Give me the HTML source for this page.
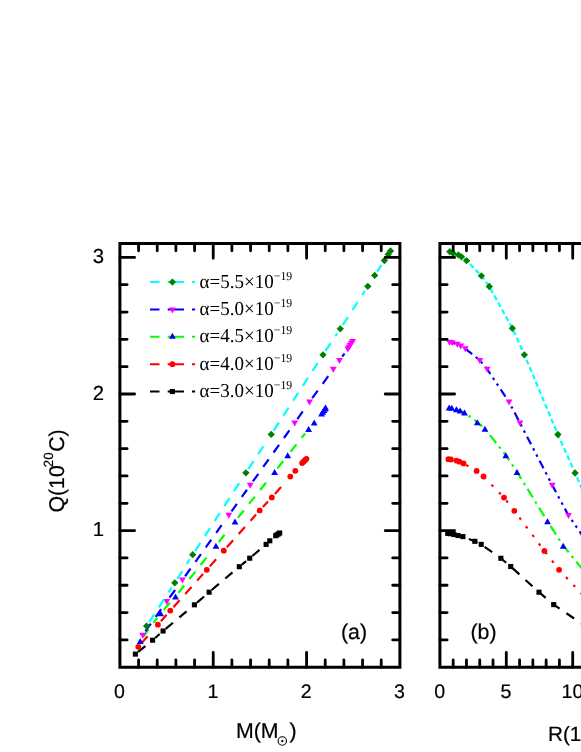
<!DOCTYPE html>
<html><head><meta charset="utf-8"><title>Q-M and Q-R</title>
<style>
html,body{margin:0;padding:0;background:#fff;}
body{width:581px;height:752px;overflow:hidden;font-family:"Liberation Sans",sans-serif;}
svg{display:block;will-change:transform;text-rendering:geometricPrecision;}
</style></head><body>
<svg width="581" height="752" viewBox="0 0 581 752">
<rect width="581" height="752" fill="#fff"/>
<!-- panel (a) data -->
<g fill="none" stroke-width="2.2">
<path d="M138.04 651.96L145.36 646.05M155.16 637.96L159.64 634.03M165.71 628.82L172.92 622.78M179.36 617.39L186.56 611.36M196.98 602.59L204.12 596.47M211.7 590.01L218.88 583.94M225.3 578.52L232.48 572.46M241.93 564.55L246.14 561.11M252.3 556.01L259.49 549.96" stroke="#000000"/>
</g>
<rect x="132.85" y="651.55" width="5.1" height="5.1" fill="#000000"/>
<rect x="150.05" y="637.65" width="5.1" height="5.1" fill="#000000"/>
<rect x="160.55" y="628.45" width="5.1" height="5.1" fill="#000000"/>
<rect x="191.85" y="602.25" width="5.1" height="5.1" fill="#000000"/>
<rect x="206.55" y="589.65" width="5.1" height="5.1" fill="#000000"/>
<rect x="236.75" y="564.15" width="5.1" height="5.1" fill="#000000"/>
<rect x="247.15" y="555.65" width="5.1" height="5.1" fill="#000000"/>
<rect x="263.55" y="541.85" width="5.1" height="5.1" fill="#000000"/>
<rect x="267.25" y="538.25" width="5.1" height="5.1" fill="#000000"/>
<rect x="273.15" y="533.15" width="5.1" height="5.1" fill="#000000"/>
<rect x="274.45" y="532.25" width="5.1" height="5.1" fill="#000000"/>
<rect x="275.85" y="531.35" width="5.1" height="5.1" fill="#000000"/>
<rect x="277.15" y="530.45" width="5.1" height="5.1" fill="#000000"/>
<g fill="none" stroke-width="2.2">
<path d="M141.35 643.36L147.59 636.33M160.94 621.25L166.6 614.81M173.37 607.17L179.63 600.17M185.24 593.91L191.5 586.9M197.1 580.64L203.07 573.97M209.86 566.36L216.11 559.34M226.86 547.27L233.11 540.25M238.7 533.97L244.95 526.96M250.54 520.68L255.98 514.58M262.83 507.03L267.98 501.5M274.86 493.96L281.1 486.94" stroke="#ff0000"/>
</g>
<circle cx="138.3" cy="646.8" r="2.9" fill="#ff0000"/>
<circle cx="157.9" cy="624.7" r="2.9" fill="#ff0000"/>
<circle cx="170.3" cy="610.6" r="2.9" fill="#ff0000"/>
<circle cx="206.8" cy="569.8" r="2.9" fill="#ff0000"/>
<circle cx="223.8" cy="550.7" r="2.9" fill="#ff0000"/>
<circle cx="259.7" cy="510.4" r="2.9" fill="#ff0000"/>
<circle cx="271.8" cy="497.4" r="2.9" fill="#ff0000"/>
<circle cx="290.3" cy="476.6" r="2.9" fill="#ff0000"/>
<circle cx="295.3" cy="470.8" r="2.9" fill="#ff0000"/>
<circle cx="302.1" cy="463.1" r="2.9" fill="#ff0000"/>
<circle cx="303.5" cy="461.7" r="2.9" fill="#ff0000"/>
<circle cx="305" cy="460.2" r="2.9" fill="#ff0000"/>
<circle cx="306.4" cy="458.8" r="2.9" fill="#ff0000"/>
<g fill="none" stroke-width="2.2">
<path d="M142.93 637.2L148.52 629.64M153.51 622.89L157.27 617.8M163.65 609.86L169.89 602.83M178.37 592.9L184.22 585.55M189.46 578.98L195.32 571.63M200.55 565.06L206.41 557.71M218.74 542.18L224.53 534.78M237.88 517.81L243.76 510.48M249.01 503.92L254.89 496.59M260.14 490.03L266.02 482.7M277.44 468.38L283.24 460.98M290.57 451.7L296.43 444.36M301.67 437.79L305.11 433.48" stroke="#00ff00"/>
</g>
<path d="M140.2 637.9L143.6 643.9L136.8 643.9Z" fill="#0000ff"/>
<path d="M160.6 610.3L164 616.3L157.2 616.3Z" fill="#0000ff"/>
<path d="M175.5 593.5L178.9 599.5L172.1 599.5Z" fill="#0000ff"/>
<path d="M215.9 542.8L219.3 548.8L212.5 548.8Z" fill="#0000ff"/>
<path d="M235 518.4L238.4 524.4L231.6 524.4Z" fill="#0000ff"/>
<path d="M274.6 469L278 475L271.2 475Z" fill="#0000ff"/>
<path d="M287.7 452.3L291.1 458.3L284.3 458.3Z" fill="#0000ff"/>
<path d="M308.6 426.1L312 432.1L305.2 432.1Z" fill="#0000ff"/>
<path d="M314.2 419.4L317.6 425.4L310.8 425.4Z" fill="#0000ff"/>
<path d="M321.6 410.5L325 416.5L318.2 416.5Z" fill="#0000ff"/>
<path d="M322.8 408.8L326.2 414.8L319.4 414.8Z" fill="#0000ff"/>
<path d="M324 407L327.4 413L320.6 413Z" fill="#0000ff"/>
<path d="M325 405.5L328.4 411.5L321.6 411.5Z" fill="#0000ff"/>
<path d="M325.6 404.5L329 410.5L322.2 410.5Z" fill="#0000ff"/>
<g fill="none" stroke-width="2.2">
<path d="M145.37 631.35L150.83 623.7M155.7 616.86L161.16 609.21M169.52 597.59L175.07 590.01M185.08 576.26L190.55 568.62M195.44 561.79L200.91 554.14M205.8 547.32L211.28 539.67M216.17 532.84L221.64 525.2M231.47 511.46L236.93 503.8M241.81 496.96L246.95 489.76M252.87 481.46L258.34 473.81M263.22 466.97L268.68 459.32M273.57 452.49L279.03 444.84M283.91 438L289.38 430.35M297.35 419.14L302.77 411.46M312.21 398.18L317.74 390.58M322.68 383.79L328.21 376.19M342.21 356.68L344.5 353.53" stroke="#0000ff"/>
</g>
<path d="M142.7 638.7L146.1 632.7L139.3 632.7Z" fill="#ff00ff"/>
<path d="M166.8 604.9L170.2 598.9L163.4 598.9Z" fill="#ff00ff"/>
<path d="M182.4 583.6L185.8 577.6L179 577.6Z" fill="#ff00ff"/>
<path d="M228.8 518.8L232.2 512.8L225.4 512.8Z" fill="#ff00ff"/>
<path d="M250.2 488.8L253.6 482.8L246.8 482.8Z" fill="#ff00ff"/>
<path d="M294.7 426.5L298.1 420.5L291.3 420.5Z" fill="#ff00ff"/>
<path d="M309.5 405.5L312.9 399.5L306.1 399.5Z" fill="#ff00ff"/>
<path d="M333.3 372.8L336.7 366.8L329.9 366.8Z" fill="#ff00ff"/>
<path d="M339.5 364L342.9 358L336.1 358Z" fill="#ff00ff"/>
<path d="M347.8 352.6L351.2 346.6L344.4 346.6Z" fill="#ff00ff"/>
<path d="M348.9 350.7L352.3 344.7L345.5 344.7Z" fill="#ff00ff"/>
<path d="M350 348.8L353.4 342.8L346.6 342.8Z" fill="#ff00ff"/>
<path d="M351.3 346.8L354.7 340.8L347.9 340.8Z" fill="#ff00ff"/>
<path d="M352.6 345L356 339L349.2 339Z" fill="#ff00ff"/>
<g fill="none" stroke-width="2.2">
<path d="M149.11 622.25L154.24 614.37M158.82 607.33L163.95 599.45M168.54 592.41L171.74 587.49M177.27 578.92L182.32 570.99M186.83 563.91L189.69 559.42M195.21 550.84L200.33 542.96M204.9 535.92L210.02 528.03M214.6 520.99L219.72 513.11M224.29 506.06L229.42 498.18M233.99 491.13L239.11 483.25M248.43 468.96L253.6 461.11M258.22 454.09L263.4 446.25M273.71 430.54L278.84 422.67M283.42 415.63L288.54 407.75M293.13 400.71L298.25 392.83M302.84 385.79L307.96 377.91M312.54 370.87L317.67 362.99M325.55 350.97L330.76 343.14M335.41 336.15L337.2 333.46M342.8 324.94L347.91 317.05M352.47 309.99L357.58 302.1M362.14 295.05L364.76 291M377.21 271.54L381.34 265.19" stroke="#00ffff"/>
</g>
<path d="M146.6 622.45L150.25 626.1L146.6 629.75L142.95 626.1Z" fill="#008000"/>
<path d="M174.8 579.15L178.45 582.8L174.8 586.45L171.15 582.8Z" fill="#008000"/>
<path d="M192.7 551.05L196.35 554.7L192.7 558.35L189.05 554.7Z" fill="#008000"/>
<path d="M245.9 469.15L249.55 472.8L245.9 476.45L242.25 472.8Z" fill="#008000"/>
<path d="M271.2 430.75L274.85 434.4L271.2 438.05L267.55 434.4Z" fill="#008000"/>
<path d="M323 351.15L326.65 354.8L323 358.45L319.35 354.8Z" fill="#008000"/>
<path d="M340.3 325.15L343.95 328.8L340.3 332.45L336.65 328.8Z" fill="#008000"/>
<path d="M367.8 282.65L371.45 286.3L367.8 289.95L364.15 286.3Z" fill="#008000"/>
<path d="M374.7 271.75L378.35 275.4L374.7 279.05L371.05 275.4Z" fill="#008000"/>
<path d="M384.4 256.85L388.05 260.5L384.4 264.15L380.75 260.5Z" fill="#008000"/>
<path d="M388.2 250.65L391.85 254.3L388.2 257.95L384.55 254.3Z" fill="#008000"/>
<path d="M390.5 247.25L394.15 250.9L390.5 254.55L386.85 250.9Z" fill="#008000"/>
<!-- panel (b) data -->
<g fill="none" stroke-width="2.2">
<path d="M447.7 533.4L450.5 533.7L453.9 534.5L458 535.5L462.9 536.6L474.8 541.3L481.2 544.4L500.9 558.3L510.7 566.5L539 592.2L553.7 604.6L596 633.3" stroke="#000000" stroke-dasharray="9.3 8.3" stroke-dashoffset="13.2"/>
</g>
<rect x="445.15" y="530.85" width="5.1" height="5.1" fill="#000000"/>
<rect x="447.95" y="531.15" width="5.1" height="5.1" fill="#000000"/>
<rect x="451.35" y="531.95" width="5.1" height="5.1" fill="#000000"/>
<rect x="455.45" y="532.95" width="5.1" height="5.1" fill="#000000"/>
<rect x="460.35" y="534.05" width="5.1" height="5.1" fill="#000000"/>
<rect x="472.25" y="538.75" width="5.1" height="5.1" fill="#000000"/>
<rect x="478.65" y="541.85" width="5.1" height="5.1" fill="#000000"/>
<rect x="498.35" y="555.75" width="5.1" height="5.1" fill="#000000"/>
<rect x="508.15" y="563.95" width="5.1" height="5.1" fill="#000000"/>
<rect x="536.45" y="589.65" width="5.1" height="5.1" fill="#000000"/>
<rect x="551.15" y="602.05" width="5.1" height="5.1" fill="#000000"/>
<g fill="none" stroke-width="2.2">
<path d="M448.4 459.2L450.9 459.5L456.4 460.6L459.4 461.7L463.5 463.4L476.6 470.9L483.5 476.5L504 497.6L514.3 510.8L544.4 550.9L559.1 569.8L592 604.7" stroke="#ff0000" stroke-dasharray="2.6 8.2" stroke-dashoffset="2.8"/>
</g>
<circle cx="448.4" cy="459.2" r="2.9" fill="#ff0000"/>
<circle cx="450.9" cy="459.5" r="2.9" fill="#ff0000"/>
<circle cx="456.4" cy="460.6" r="2.9" fill="#ff0000"/>
<circle cx="459.4" cy="461.7" r="2.9" fill="#ff0000"/>
<circle cx="463.5" cy="463.4" r="2.9" fill="#ff0000"/>
<circle cx="476.6" cy="470.9" r="2.9" fill="#ff0000"/>
<circle cx="483.5" cy="476.5" r="2.9" fill="#ff0000"/>
<circle cx="504" cy="497.6" r="2.9" fill="#ff0000"/>
<circle cx="514.3" cy="510.8" r="2.9" fill="#ff0000"/>
<circle cx="544.4" cy="550.9" r="2.9" fill="#ff0000"/>
<circle cx="559.1" cy="569.8" r="2.9" fill="#ff0000"/>
<g fill="none" stroke-width="2.2">
<path d="M449.1 407.5L451.8 407.8L456.4 409.2L460.1 410.6L464.5 412.6L477.3 422.2L484.9 428.8L505.8 455.2L517 471.9L547.5 521.3L563.2 545.7L595 584.5" stroke="#00ff00" stroke-dasharray="10 4.7 2.5 4.7" stroke-dashoffset="15.2"/>
</g>
<path d="M449.1 404.5L452.5 410.5L445.7 410.5Z" fill="#0000ff"/>
<path d="M451.8 404.8L455.2 410.8L448.4 410.8Z" fill="#0000ff"/>
<path d="M456.4 406.2L459.8 412.2L453 412.2Z" fill="#0000ff"/>
<path d="M460.1 407.6L463.5 413.6L456.7 413.6Z" fill="#0000ff"/>
<path d="M464.5 409.6L467.9 415.6L461.1 415.6Z" fill="#0000ff"/>
<path d="M477.3 419.2L480.7 425.2L473.9 425.2Z" fill="#0000ff"/>
<path d="M484.9 425.8L488.3 431.8L481.5 431.8Z" fill="#0000ff"/>
<path d="M505.8 452.2L509.2 458.2L502.4 458.2Z" fill="#0000ff"/>
<path d="M517 468.9L520.4 474.9L513.6 474.9Z" fill="#0000ff"/>
<path d="M547.5 518.3L550.9 524.3L544.1 524.3Z" fill="#0000ff"/>
<path d="M563.2 542.7L566.6 548.7L559.8 548.7Z" fill="#0000ff"/>
<g fill="none" stroke-width="2.2">
<path d="M449.5 342.1L452.2 342.7L457.3 344.2L460.8 345.8L465.3 348.6L479.8 360.3L487.2 369.2L509 401.9L520 423L552.2 485.1L568.5 515.4L600 561.1" stroke="#0000ff" stroke-dasharray="8.6 4.5 2.5 4.5 2.5 4.5" stroke-dashoffset="9.6"/>
</g>
<path d="M449.5 345.7L452.9 339.7L446.1 339.7Z" fill="#ff00ff"/>
<path d="M452.2 346.3L455.6 340.3L448.8 340.3Z" fill="#ff00ff"/>
<path d="M457.3 347.8L460.7 341.8L453.9 341.8Z" fill="#ff00ff"/>
<path d="M460.8 349.4L464.2 343.4L457.4 343.4Z" fill="#ff00ff"/>
<path d="M465.3 352.2L468.7 346.2L461.9 346.2Z" fill="#ff00ff"/>
<path d="M479.8 363.9L483.2 357.9L476.4 357.9Z" fill="#ff00ff"/>
<path d="M487.2 372.8L490.6 366.8L483.8 366.8Z" fill="#ff00ff"/>
<path d="M509 405.5L512.4 399.5L505.6 399.5Z" fill="#ff00ff"/>
<path d="M520 426.6L523.4 420.6L516.6 420.6Z" fill="#ff00ff"/>
<path d="M552.2 488.7L555.6 482.7L548.8 482.7Z" fill="#ff00ff"/>
<path d="M568.5 519L571.9 513L565.1 513Z" fill="#ff00ff"/>
<g fill="none" stroke-width="2.2">
<path d="M449.8 251.7L453.2 253.4L458.4 254.9L461.5 256.8L466.6 260.7L481.4 275.8L489.3 286.5L512.4 328.3L524.4 354.8L557.9 434.5L575.1 473L592 512" stroke="#00ffff" stroke-dasharray="5 3" stroke-dashoffset="0"/>
</g>
<path d="M449.8 248.05L453.45 251.7L449.8 255.35L446.15 251.7Z" fill="#008000"/>
<path d="M453.2 249.75L456.85 253.4L453.2 257.05L449.55 253.4Z" fill="#008000"/>
<path d="M458.4 251.25L462.05 254.9L458.4 258.55L454.75 254.9Z" fill="#008000"/>
<path d="M461.5 253.15L465.15 256.8L461.5 260.45L457.85 256.8Z" fill="#008000"/>
<path d="M466.6 257.05L470.25 260.7L466.6 264.35L462.95 260.7Z" fill="#008000"/>
<path d="M481.4 272.15L485.05 275.8L481.4 279.45L477.75 275.8Z" fill="#008000"/>
<path d="M489.3 282.85L492.95 286.5L489.3 290.15L485.65 286.5Z" fill="#008000"/>
<path d="M512.4 324.65L516.05 328.3L512.4 331.95L508.75 328.3Z" fill="#008000"/>
<path d="M524.4 351.15L528.05 354.8L524.4 358.45L520.75 354.8Z" fill="#008000"/>
<path d="M557.9 430.85L561.55 434.5L557.9 438.15L554.25 434.5Z" fill="#008000"/>
<path d="M575.1 469.35L578.75 473L575.1 476.65L571.45 473Z" fill="#008000"/>
<!-- axes -->
<g fill="none" stroke="#000" stroke-width="3">
<path d="M119.9 243.55H399.9V667.2H119.9Z"/>
<path d="M590 243.55H439.9M439.9 242.05V668.7M439.9 667.2H590"/>
</g>
<g fill="none" stroke="#000" stroke-linecap="round" stroke-width="2.8">
<path d="M138.57 667.2v-7.2M138.57 243.55v7.2M157.23 667.2v-7.2M157.23 243.55v7.2M175.9 667.2v-7.2M175.9 243.55v7.2M194.57 667.2v-7.2M194.57 243.55v7.2M213.23 667.2v-14.7M213.23 243.55v14.7M231.9 667.2v-7.2M231.9 243.55v7.2M250.57 667.2v-7.2M250.57 243.55v7.2M269.23 667.2v-7.2M269.23 243.55v7.2M287.9 667.2v-7.2M287.9 243.55v7.2M306.57 667.2v-14.7M306.57 243.55v14.7M325.23 667.2v-7.2M325.23 243.55v7.2M343.9 667.2v-7.2M343.9 243.55v7.2M362.57 667.2v-7.2M362.57 243.55v7.2M381.23 667.2v-7.2M381.23 243.55v7.2M119.9 639.88h7.2M399.9 639.88h-7.2M439.9 639.88h7.2M119.9 612.56h7.2M399.9 612.56h-7.2M439.9 612.56h7.2M119.9 585.24h7.2M399.9 585.24h-7.2M439.9 585.24h7.2M119.9 557.92h7.2M399.9 557.92h-7.2M439.9 557.92h7.2M119.9 530.6h14.7M399.9 530.6h-14.7M439.9 530.6h14.7M119.9 503.28h7.2M399.9 503.28h-7.2M439.9 503.28h7.2M119.9 475.96h7.2M399.9 475.96h-7.2M439.9 475.96h7.2M119.9 448.64h7.2M399.9 448.64h-7.2M439.9 448.64h7.2M119.9 421.32h7.2M399.9 421.32h-7.2M439.9 421.32h7.2M119.9 394h14.7M399.9 394h-14.7M439.9 394h14.7M119.9 366.68h7.2M399.9 366.68h-7.2M439.9 366.68h7.2M119.9 339.36h7.2M399.9 339.36h-7.2M439.9 339.36h7.2M119.9 312.04h7.2M399.9 312.04h-7.2M439.9 312.04h7.2M119.9 284.72h7.2M399.9 284.72h-7.2M439.9 284.72h7.2M119.9 257.4h14.7M399.9 257.4h-14.7M439.9 257.4h14.7M453.18 667.2v-7.2M453.18 243.55v7.2M466.46 667.2v-7.2M466.46 243.55v7.2M479.74 667.2v-7.2M479.74 243.55v7.2M493.02 667.2v-7.2M493.02 243.55v7.2M506.3 667.2v-14.7M506.3 243.55v14.7M519.58 667.2v-7.2M519.58 243.55v7.2M532.86 667.2v-7.2M532.86 243.55v7.2M546.14 667.2v-7.2M546.14 243.55v7.2M559.42 667.2v-7.2M559.42 243.55v7.2M572.7 667.2v-14.7M572.7 243.55v14.7M585.98 667.2v-7.2M585.98 243.55v7.2"/>
</g>
<!-- text -->
<g font-family="Liberation Sans, sans-serif" font-size="19.6" fill="#000" stroke="#000" stroke-width="0.2">
<text x="104.1" y="536.25" text-anchor="end" font-size="20.3">1</text>
<text x="104.1" y="399.65" text-anchor="end" font-size="20.3">2</text>
<text x="104.1" y="263.05" text-anchor="end" font-size="20.3">3</text>
<text x="119.5" y="698.0" text-anchor="middle">0</text>
<text x="212.83" y="698.0" text-anchor="middle">1</text>
<text x="306.17" y="698.0" text-anchor="middle">2</text>
<text x="399.5" y="698.0" text-anchor="middle">3</text>
<text x="439.6" y="698.0" text-anchor="middle">0</text>
<text x="506" y="698.0" text-anchor="middle">5</text>
<text x="572.4" y="698.0" text-anchor="middle">10</text>
</g>
<g font-family="Liberation Sans, sans-serif" font-size="21.3" fill="#000" stroke="#000" stroke-width="0.2">
<text x="341" y="638.8">(a)</text>
<text x="470.5" y="638.8">(b)</text>
<text x="236" y="738.2">M(M</text>
<text x="289.4" y="738.1">)</text>
<circle cx="282.3" cy="741" r="4.2" fill="none" stroke="#000" stroke-width="1.1"/><circle cx="282.3" cy="741" r="1.1"/>
<text x="548" y="741.3" font-size="20.7">R(10</text>
<text transform="translate(64.0 512.6) rotate(-90)">Q(10<tspan font-size="13.3" dy="-10.6" dx="-2.0">20</tspan><tspan dy="10.6" dx="0.6">C)</tspan></text>
</g>
<path d="M150 282.1H159.5M167.7 282.1H184M192 282.1H195.1" stroke="#00ffff" stroke-width="2" fill="none"/>
<path d="M172.4 278.45L176.05 282.1L172.4 285.75L168.75 282.1Z" fill="#008000"/>
<path d="M150 309.46H159.5M167.7 309.46H184M192 309.46H195.1" stroke="#0000ff" stroke-width="2" fill="none"/>
<path d="M172.4 313.46L175.8 307.46L169 307.46Z" fill="#ff00ff"/>
<path d="M150 336.82H159.5M167.7 336.82H184M192 336.82H195.1" stroke="#00ff00" stroke-width="2" fill="none"/>
<path d="M172.4 332.82L175.8 338.82L169 338.82Z" fill="#0000ff"/>
<path d="M150 364.18H159.5M167.7 364.18H184M192 364.18H195.1" stroke="#ff0000" stroke-width="2" fill="none"/>
<circle cx="172.4" cy="364.18" r="2.9" fill="#ff0000"/>
<path d="M150 391.54H159.5M167.7 391.54H184M192 391.54H195.1" stroke="#000000" stroke-width="2" fill="none"/>
<rect x="169.85" y="388.99" width="5.1" height="5.1" fill="#000000"/>
<g font-family="Liberation Serif, serif" font-size="19" fill="#000">
<text transform="translate(199.6 287.6) scale(1 1.04)">α=5.5×10<tspan font-size="11.8" dy="-7.7">−19</tspan></text>
<text transform="translate(199.6 314.96) scale(1 1.04)">α=5.0×10<tspan font-size="11.8" dy="-7.7">−19</tspan></text>
<text transform="translate(199.6 342.32) scale(1 1.04)">α=4.5×10<tspan font-size="11.8" dy="-7.7">−19</tspan></text>
<text transform="translate(199.6 369.68) scale(1 1.04)">α=4.0×10<tspan font-size="11.8" dy="-7.7">−19</tspan></text>
<text transform="translate(199.6 397.04) scale(1 1.04)">α=3.0×10<tspan font-size="11.8" dy="-7.7">−19</tspan></text>
</g>
</svg>
</body></html>
